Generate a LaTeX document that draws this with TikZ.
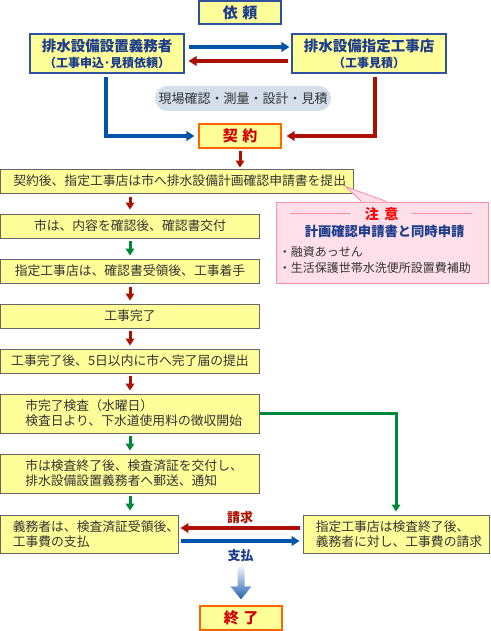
\documentclass[tikz,border=0pt]{standalone}
\usepackage{fontspec}
\setmainfont{Noto Sans CJK JP}
\usetikzlibrary{arrows.meta,calc}
\definecolor{boxyellow}{HTML}{FFFF99}
\definecolor{boxgrey}{HTML}{666666}
\definecolor{boxblue}{HTML}{3050A0}
\definecolor{topblue}{HTML}{1E3C8C}
\definecolor{orangeline}{HTML}{FF6600}
\definecolor{keyred}{HTML}{D00000}
\definecolor{arrred}{HTML}{AA1100}
\definecolor{arrblue}{HTML}{0055AA}
\definecolor{arrgreen}{HTML}{00883A}
\definecolor{pillfill}{HTML}{D5DFEC}
\definecolor{notefill}{HTML}{FFE0EA}
\definecolor{noteline}{HTML}{FF8FA0}
\definecolor{txt}{HTML}{333333}
\definecolor{gradblue}{HTML}{1F5FB0}
\newcommand\fsz[2]{\fontsize{#1pt}{#2pt}\selectfont}
\begin{document}
\begin{tikzpicture}[x=1pt,y=-1pt,
  box/.style={draw=boxgrey, fill=boxyellow, line width=0.9pt, inner sep=0pt, text=txt, font=\fsz{12.8}{15}},
  topbox/.style={draw=boxblue, fill=boxyellow, line width=1.1pt, inner sep=0pt, text=topblue, font=\bfseries\fsz{14.5}{16}, align=center},
  endbox/.style={draw=orangeline, fill=boxyellow, line width=1.2pt, inner sep=0pt, text=keyred, font=\bfseries\fsz{15}{18}, minimum width=82, minimum height=24},
  btext/.style={anchor=west, inner sep=0pt, align=left, text=txt, font=\fsz{12.8}{15}},
  harr/.style={line width=3.4pt, -{Triangle[length=8pt,width=9.5pt]}},
  varr/.style={line width=3pt, -{Triangle[length=7pt,width=8.5pt]}},
]
\useasboundingbox (0,0) rectangle (490,631);

% top
\node[topbox, minimum width=82, minimum height=23, font=\bfseries\fsz{15}{18}] (irai) at (240,12.5) {依\hspace{0.3em}頼};
\node[topbox, minimum width=154, minimum height=39] (oblig) at (107,53.5)
  {排水設備設置義務者\\{\fsz{12}{16}（工事申込･見積依頼）}};
\node[topbox, minimum width=154, minimum height=39] (shop) at (369,53.5)
  {排水設備指定工事店\\{\fsz{12}{16}（工事見積）}};
\node[fill=pillfill, rounded corners=12.5pt, minimum width=176, minimum height=25, inner sep=0pt, text=txt, font=\fsz{13}{15}] (survey) at (243,98.5) {現場確認・測量・設計・見積};
\node[endbox] (keiyaku) at (240,136) {契\hspace{0.3em}約};

\draw[harr, arrblue] ([xshift=4pt,yshift=6.5pt]oblig.east) -- ([xshift=-2pt,yshift=6.5pt]shop.west);
\draw[harr, arrred] ([xshift=-3pt,yshift=-7.5pt]shop.west) -- ([xshift=4pt,yshift=-7.5pt]oblig.east);
\draw[harr, arrblue] ([xshift=-1pt,yshift=-3pt]oblig.south) |- ([xshift=-4pt]keiyaku.west);
\draw[harr, arrred] ([xshift=6pt,yshift=-3pt]shop.south) |- ([xshift=5pt]keiyaku.east);

% main column
\node[box, minimum width=352.5, minimum height=24] (b1) at (176.75,181) {};
\node[btext] (b1t) at ($(b1.west)+(13,0)$) {契約後、指定工事店は市へ排水設備計画確認申請書を提出};
\node[box, minimum width=259, minimum height=24] (b2) at (130,226) {市は、内容を確認後、確認書交付};
\node[box, minimum width=259, minimum height=24] (b3) at (130,271) {指定工事店は、確認書受領後、工事着手};
\node[box, minimum width=259, minimum height=24] (b4) at (130,316) {工事完了};
\node[box, minimum width=259, minimum height=24] (b5) at (130,361) {工事完了後、5日以内に市へ完了届の提出};
\node[box, minimum width=259, minimum height=39] (b6) at (130,413.5) {};
\node[btext] (b6t) at ($(b6.west)+(25,0)$) {市完了検査（水曜日）\\検査日より、下水道使用料の徴収開始};
\node[box, minimum width=259, minimum height=39] (b7) at (130,473.5) {};
\node[btext] (b7t) at ($(b7.west)+(25,0)$) {市は検査終了後、検査済証を交付し、\\排水設備設置義務者へ郵送、通知};
\node[box, minimum width=177.5, minimum height=38] (b8) at (89.25,534) {};
\node[btext] (b8t) at ($(b8.west)+(12.5,0)$) {義務者は、検査済証受領後、\\工事費の支払};
\node[box, minimum width=186, minimum height=38] (b9) at (396,534) {};
\node[btext] (b9t) at ($(b9.west)+(13,0)$) {指定工事店は検査終了後、\\義務者に対し、工事費の請求};
\node[endbox] (end) at (241,618) {終\hspace{0.3em}了};

\draw[varr, arrred] ($(keiyaku.south)+(0,2)$) -- ($(keiyaku.south |- b1.north)+(0,-1)$);
\draw[varr, arrred] ($(b2.north |- b1.south)+(0,4)$) -- ($(b2.north)+(0,-4)$);
\draw[varr, arrgreen] ($(b2.south)+(0,3)$) -- ($(b3.north)+(0,-3)$);
\draw[varr, arrred] ($(b3.south)+(0,4)$) -- ($(b4.north)+(0,-3)$);
\draw[varr, arrred] ($(b4.south)+(0,3)$) -- ($(b5.north)+(0,-3)$);
\draw[varr, arrred] ($(b5.south)+(0,3)$) -- ($(b6.north)+(0,-3)$);
\draw[varr, arrgreen] ($(b6.south)+(0,3)$) -- ($(b7.north)+(0,-3)$);
\draw[varr, arrgreen] ($(b7.south)+(0,3)$) -- ($(b7.south |- b8.north)+(0,-4)$);
\draw[line width=3pt, arrgreen, -{Triangle[length=7pt,width=8.5pt]}] (b6.east) -| ([yshift=3pt]b9.north);

\draw[harr, arrred] ([xshift=-3pt,yshift=6pt]b9.west) -- node[yshift=11pt, text=arrred, font=\bfseries\fsz{13}{15}] (seikyu) {請求} ([xshift=2pt,yshift=6pt]b8.east);
\draw[harr, arrblue] ([xshift=3pt,yshift=-7pt]b8.east) -- node[yshift=-15pt, text=topblue, font=\bfseries\fsz{13}{15}] (shiharai) {支払} ([xshift=-3pt,yshift=-7pt]b9.west);

% gradient arrow
\coordinate (gtip) at ($(end.north)+(0,-6)$);
\shade[top color=white, bottom color=gradblue]
  ($(gtip)+(-3.5,-35)$) -- ($(gtip)+(3.5,-35)$) -- ($(gtip)+(3.5,-13)$) -- ($(gtip)+(10.5,-13)$)
  -- (gtip) -- ($(gtip)+(-10.5,-13)$) -- ($(gtip)+(-3.5,-13)$) -- cycle;

% note
\node[draw=noteline, fill=notefill, line width=0.9pt, minimum width=212.5, minimum height=81, inner sep=0pt] (note) at (382.25,242.5) {};
\fill[notefill] ($(note.north west)+(86,0.6)$) -- ($(note.north west)+(70,-15)$) -- ($(note.north west)+(111,0.6)$) -- cycle;
\draw[noteline, line width=0.9pt] ($(note.north west)+(86,0)$) -- ($(note.north west)+(70,-15)$) -- ($(note.north west)+(111,0)$);
\node[text=red, font=\bfseries\fsz{14}{16}, inner sep=0pt] (chui) at ($(note.north west)+(106,13)$) {注\hspace{0.4em}意};
\draw[noteline, line width=0.8pt] ($(note.north west)+(14,12)$) -- ($(note.north west)+(74,12)$);
\draw[noteline, line width=0.8pt] ($(note.north west)+(136,12)$) -- ($(note.north west)+(196,12)$);
\node[text=topblue, font=\bfseries\fsz{13.3}{16}, inner sep=0pt] (keikaku) at ($(note.north west)+(109,30)$) {計画確認申請書と同時申請};
\node[anchor=west, align=left, inner sep=0pt, text=txt, font=\fsz{12}{16}] (bullets) at ($(note.north west)+(3,58)$) {・融資あっせん\\・生活保護世帯水洗便所設置費補助};
\end{tikzpicture}
\end{document}
